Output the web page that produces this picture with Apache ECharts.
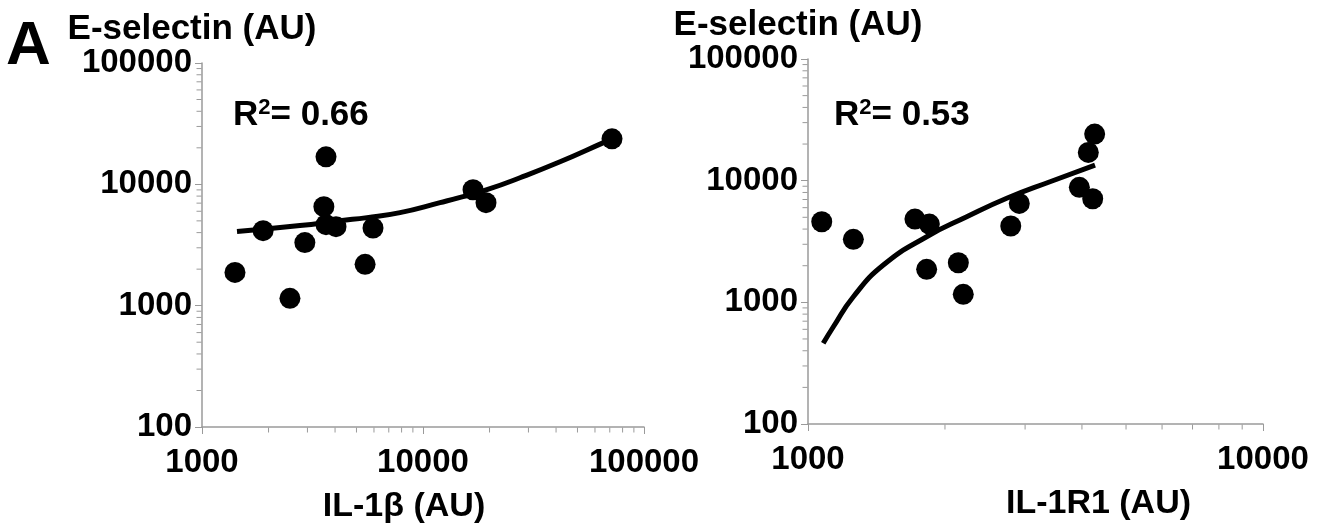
<!DOCTYPE html>
<html>
<head>
<meta charset="utf-8">
<script src="https://cdn.jsdelivr.net/npm/echarts@6/dist/echarts.min.js"></script>
<style>
  html, body { margin: 0; padding: 0; background: #fff; }
  #main { width: 1335px; height: 529px; }
</style>
</head>
<body>
<div id="main"></div>
<script>
// left panel: IL-1b vs E-selectin
var il1b = [1410, 1890, 2500, 2920, 3640, 3560, 3640, 4040, 5940, 5470, 16840, 19280, 71650];
var eselL = [1880, 4150, 1150, 3310, 16850, 6550, 4650, 4480, 4370, 2190, 9030, 7060, 23700];
// fitted curve
var fitLx = [1440, 2775, 4211, 5580, 7870, 11940, 15170, 19480, 27470, 41690, 65200, 71650];
var fitLy = [4077, 4570, 5022, 5316, 5845, 7060, 7910, 9030, 11330, 15340, 21970, 23700];

// right panel: IL-1R1 vs E-selectin
var il1r1 = [1072, 1258, 1718, 1848, 1823, 2140, 2194, 2790, 2913, 3948, 4224, 4131, 4266];
var eselR = [4594, 3294, 4835, 4398, 1867, 2116, 1163, 4238, 6506, 8810, 7100, 17080, 24150];
var fitRx = [1080, 1137, 1258, 1464, 1823, 2233, 2734, 3403, 4274];
var fitRy = [460, 630, 1112, 2025, 3460, 5050, 7160, 9800, 13430];

var r2 = ['0.66', '0.53'];
var xNames = ['IL-1β (AU)', 'IL-1R1 (AU)'];
var yName = 'E-selectin (AU)';

// minor tick values (log 2..9)
var minorX1 = [2000, 3000, 4000, 5000, 6000, 7000, 8000, 9000, 20000, 30000, 40000, 50000, 60000, 70000, 80000, 90000];
var minorX2 = [2000, 3000, 4000, 5000, 6000, 7000, 8000, 9000];
var minorY = [200, 300, 400, 500, 600, 700, 800, 900, 2000, 3000, 4000, 5000, 6000, 7000, 8000, 9000,
    20000, 30000, 40000, 50000, 60000, 70000, 80000, 90000];

var FONT = 'Liberation Sans';
var AXIS_GRAY = '#9a9a9a';

function zip(a, b) {
    var res = [];
    for (var i = 0; i < a.length; i++) res.push([a[i], b[i]]);
    return res;
}

function xAxisOpt(idx, max, name, nudge) {
    return {
        type: 'log', logBase: 10, gridIndex: idx, min: 1000, max: max,
        name: name, nameLocation: 'middle', nameGap: 63,
        nameTextStyle: { fontFamily: FONT, fontWeight: 'bold', fontSize: 34, color: '#000',
            padding: nudge > 0 ? [0, 0, 0, nudge * 2] : [0, -nudge * 2, 0, 0] },
        axisLine: { lineStyle: { color: AXIS_GRAY, width: 1.5 } },
        axisTick: { length: 7, lineStyle: { color: AXIS_GRAY } },
        axisLabel: { fontFamily: FONT, fontWeight: 'bold', fontSize: 33, color: '#000', margin: 19,
            formatter: function (v) { return String(Math.round(v)); } },
        splitLine: { show: false }
    };
}

function yAxisOpt(idx) {
    return {
        type: 'log', logBase: 10, gridIndex: idx, min: 100, max: 100000,
        name: yName, nameLocation: 'end', nameGap: 9,
        nameTextStyle: { fontFamily: FONT, fontWeight: 'bold', fontSize: 35, color: '#000', padding: [0, 20, 0, 0] },
        axisLine: { lineStyle: { color: AXIS_GRAY, width: 1.5 } },
        axisTick: { length: 7, lineStyle: { color: AXIS_GRAY } },
        axisLabel: { fontFamily: FONT, fontWeight: 'bold', fontSize: 33, color: '#000', margin: 10,
            formatter: function (v) { return String(Math.round(v)); } },
        splitLine: { show: false }
    };
}

function tickSeries(idx, vals, fixed, isX) {
    return {
        type: 'scatter', xAxisIndex: idx, yAxisIndex: idx, silent: true, clip: false, z: 1,
        symbol: 'rect', symbolSize: isX ? [1, 5] : [5, 1], symbolOffset: isX ? [0, 3] : [-3, 0],
        itemStyle: { color: AXIS_GRAY, opacity: 1 },
        data: vals.map(function (v) { return isX ? [v, fixed] : [fixed, v]; })
    };
}

function r2Text(x, val) {
    return {
        type: 'text', left: x, top: 97,
        style: {
            text: '{b|R}{s|2}{b|= ' + val + '}', fill: '#000',
            rich: {
                b: { fontFamily: FONT, fontWeight: 'bold', fontSize: 35, lineHeight: 36 },
                s: { fontFamily: FONT, fontWeight: 'bold', fontSize: 22, verticalAlign: 'top', lineHeight: 36 }
            }
        }
    };
}

var chart = echarts.init(document.getElementById('main'));
var option = {
    backgroundColor: '#fff',
    animation: false,
    grid: [
        { left: 202, top: 63, width: 442, height: 365 },
        { left: 808, top: 59, width: 455, height: 365 }
    ],
    xAxis: [xAxisOpt(0, 100000, xNames[0], -19), xAxisOpt(1, 10000, xNames[1], 63)],
    yAxis: [yAxisOpt(0), yAxisOpt(1)],
    graphic: [
        { type: 'text', left: 6, top: 16,
          style: { text: 'A', fontFamily: FONT, fontWeight: 'bold', fontSize: 62, fill: '#000' } },
        r2Text(233, r2[0]),
        r2Text(834, r2[1])
    ],
    series: [
        {
            name: 'fitL', type: 'line', xAxisIndex: 0, yAxisIndex: 0, smooth: true, showSymbol: false,
            lineStyle: { color: '#000', width: 5 }, z: 2, silent: true,
            data: zip(fitLx, fitLy)
        },
        {
            name: 'dotsL', type: 'scatter', xAxisIndex: 0, yAxisIndex: 0, symbolSize: 21, z: 3,
            itemStyle: { color: '#000', opacity: 1 },
            data: zip(il1b, eselL)
        },
        {
            name: 'fitR', type: 'line', xAxisIndex: 1, yAxisIndex: 1, smooth: true, showSymbol: false,
            lineStyle: { color: '#000', width: 5 }, z: 2, silent: true,
            data: zip(fitRx, fitRy)
        },
        {
            name: 'dotsR', type: 'scatter', xAxisIndex: 1, yAxisIndex: 1, symbolSize: 21, z: 3,
            itemStyle: { color: '#000', opacity: 1 },
            data: zip(il1r1, eselR)
        },
        tickSeries(0, minorX1, 100, true),
        tickSeries(0, minorY, 1000, false),
        tickSeries(1, minorX2, 100, true),
        tickSeries(1, minorY, 1000, false)
    ]
};
chart.setOption(option);
</script>
</body>
</html>
